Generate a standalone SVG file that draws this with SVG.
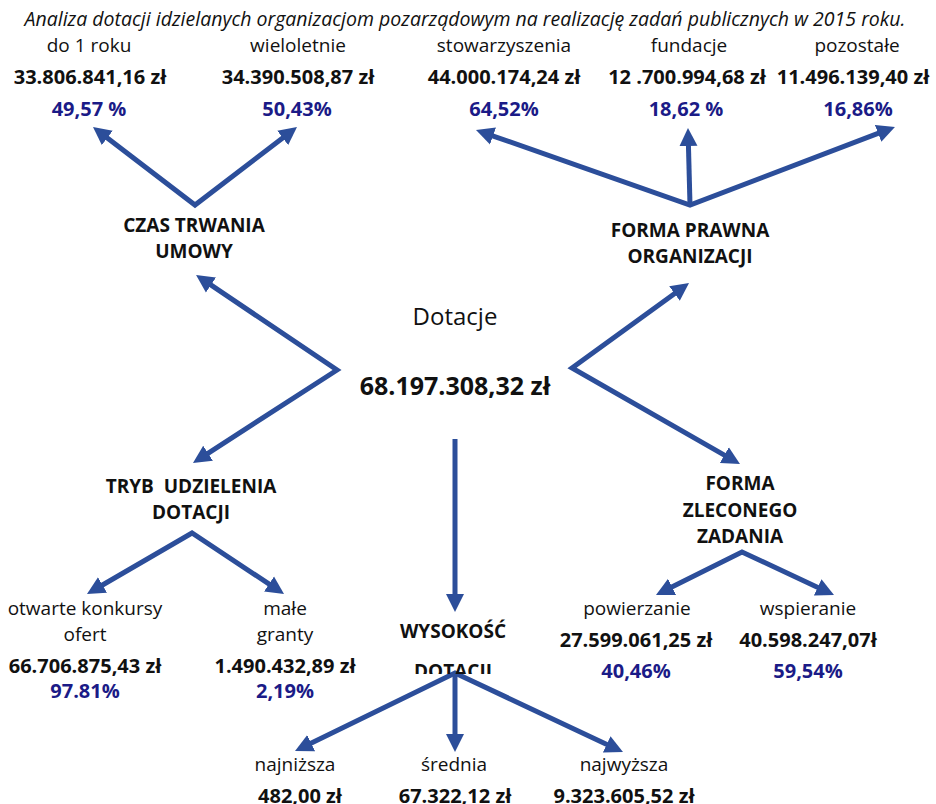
<svg xmlns="http://www.w3.org/2000/svg" width="936" height="804" viewBox="0 0 936 804">
<defs>
<marker id="ah" markerUnits="userSpaceOnUse" markerWidth="20" markerHeight="20" viewBox="0 -10 20 20" refX="2" refY="0" orient="auto-start-reverse">
<path d="M0,-9 L18,0 L0,9 z" fill="#2C4E9A"/>
</marker>
<clipPath id="clipDot"><rect x="380" y="600" width="160" height="74"/></clipPath>
</defs>
<style>
text{font-family:"Open Sans","Noto Sans",sans-serif;text-anchor:middle;fill:#111}
.t{font-style:italic;font-size:19.5px}
.l{font-size:19px}
.h{font-size:19px;font-weight:bold;white-space:pre}
.v{font-size:20px;font-weight:bold}
.p{font-size:20px;font-weight:bold;fill:#1B1B87}
.c{stroke:#2C4E9A;stroke-width:5;fill:none;stroke-linejoin:miter}
</style>
<rect width="936" height="804" fill="#fff"/>
<text class="t" x="465" y="26">Analiza dotacji idzielanych organizacjom pozarządowym na realizację zadań publicznych w 2015 roku.</text>

<g id="connectors">
<path class="c" d="M105.7,136.7 L195,205 L284.3,136.7" marker-start="url(#ah)" marker-end="url(#ah)"/>
<path class="c" d="M491.1,135.3 L690,205 L880,132.7" marker-start="url(#ah)" marker-end="url(#ah)"/>
<path class="c" d="M690,205 L688.4,144" marker-end="url(#ah)"/>
<path class="c" d="M209.3,283.9 L337,370 L206.4,454.3" marker-start="url(#ah)" marker-end="url(#ah)"/>
<path class="c" d="M676.1,292.4 L572,368 L726.1,456.1" marker-start="url(#ah)" marker-end="url(#ah)"/>
<path class="c" d="M455,439 L455,596" marker-end="url(#ah)"/>
<path class="c" d="M100.8,586 L192,533 L270.7,585.2" marker-start="url(#ah)" marker-end="url(#ah)"/>
<path class="c" d="M670.3,587.8 L742,552 L819.5,588.2" marker-start="url(#ah)" marker-end="url(#ah)"/>
<path class="c" d="M309.4,744 L455,673 L608.5,745.2" marker-start="url(#ah)" marker-end="url(#ah)"/>
<path class="c" d="M455,673 L455,736" marker-end="url(#ah)"/>
</g>

<g id="do1roku">
<text class="l" x="89" y="52">do 1 roku</text>
<text class="v" x="90" y="84">33.806.841,16 zł</text>
<text class="p" x="89" y="116">49,57 %</text>
</g>
<g id="wieloletnie">
<text class="l" x="298" y="52">wieloletnie</text>
<text class="v" x="298" y="84">34.390.508,87 zł</text>
<text class="p" x="297" y="116">50,43%</text>
</g>
<g id="stowarzyszenia">
<text class="l" x="504" y="52">stowarzyszenia</text>
<text class="v" x="504" y="84">44.000.174,24 zł</text>
<text class="p" x="504" y="116">64,52%</text>
</g>
<g id="fundacje">
<text class="l" x="689" y="52">fundacje</text>
<text class="v" x="687" y="84">12 .700.994,68 zł</text>
<text class="p" x="686" y="116">18,62 %</text>
</g>
<g id="pozostale">
<text class="l" x="857" y="52">pozostałe</text>
<text class="v" x="853" y="84">11.496.139,40 zł</text>
<text class="p" x="858" y="116">16,86%</text>
</g>
<g id="czas">
<text class="h" x="194" y="232">CZAS TRWANIA</text>
<text class="h" x="194" y="258">UMOWY</text>
</g>
<g id="forma-prawna">
<text class="h" x="690" y="237">FORMA PRAWNA</text>
<text class="h" x="690" y="263">ORGANIZACJI</text>
</g>
<g id="dotacje">
<text x="455" y="325" style="font-size:24px">Dotacje</text>
<text x="455" y="395" style="font-size:25px;font-weight:bold">68.197.308,32 zł</text>
</g>
<g id="tryb">
<text class="h" x="191" y="493">TRYB  UDZIELENIA</text>
<text class="h" x="191" y="519">DOTACJI</text>
</g>
<g id="forma-zlecona">
<text class="h" x="740" y="490">FORMA</text>
<text class="h" x="740" y="517">ZLECONEGO</text>
<text class="h" x="740" y="543">ZADANIA</text>
</g>
<g id="otwarte">
<text class="l" x="85" y="615">otwarte konkursy</text>
<text class="l" x="85" y="641">ofert</text>
<text class="v" x="85" y="673">66.706.875,43 zł</text>
<text class="p" x="85" y="698">97.81%</text>
</g>
<g id="male">
<text class="l" x="285" y="615">małe</text>
<text class="l" x="285" y="641">granty</text>
<text class="v" x="285" y="673">1.490.432,89 zł</text>
<text class="p" x="285" y="698">2,19%</text>
</g>
<g id="wysokosc">
<text class="h" x="453" y="638">WYSOKOŚĆ</text>
<text class="h" x="453" y="678" clip-path="url(#clipDot)">DOTACJI</text>
</g>
<g id="powierzanie">
<text class="l" x="637" y="615">powierzanie</text>
<text class="v" x="636" y="647">27.599.061,25 zł</text>
<text class="p" x="636" y="678">40,46%</text>
</g>
<g id="wspieranie">
<text class="l" x="808" y="615">wspieranie</text>
<text class="v" x="808" y="647">40.598.247,07ł</text>
<text class="p" x="808" y="678">59,54%</text>
</g>
<g id="najnizsza">
<text class="l" x="295" y="771">najniższa</text>
<text class="v" x="300" y="803">482,00 zł</text>
</g>
<g id="srednia">
<text class="l" x="454" y="771">średnia</text>
<text class="v" x="455" y="803">67.322,12 zł</text>
</g>
<g id="najwyzsza">
<text class="l" x="624" y="771">najwyższa</text>
<text class="v" x="624" y="803">9.323.605,52 zł</text>
</g>
</svg>
